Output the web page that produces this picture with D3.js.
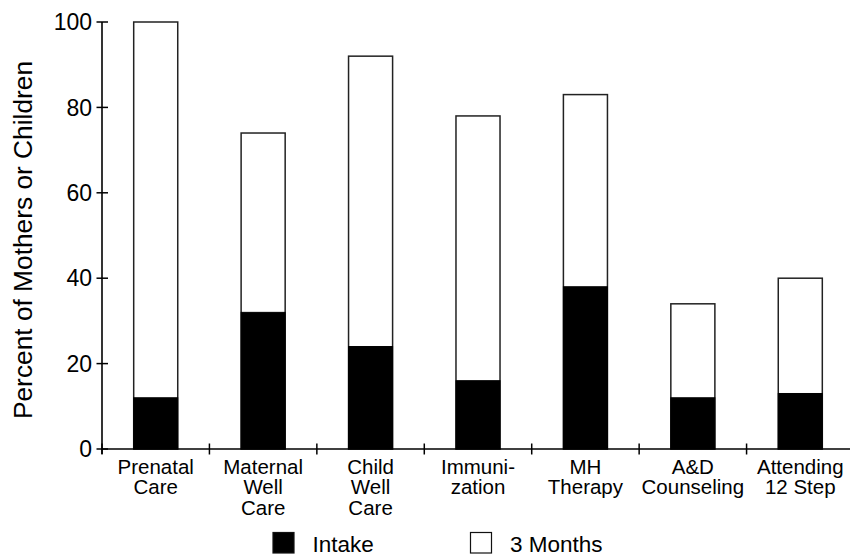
<!DOCTYPE html>
<html>
<head>
<meta charset="utf-8">
<script src="https://cdn.jsdelivr.net/npm/d3@7"></script>
<style>
  html, body { margin: 0; padding: 0; background: #fff; }
  text { font-family: "Liberation Sans", Arial, Helvetica, sans-serif; fill: #000; }
</style>
</head>
<body>
<svg id="chart" width="850" height="557"></svg>
<script>
const categories = [
  ["Prenatal", "Care"],
  ["Maternal", "Well", "Care"],
  ["Child", "Well", "Care"],
  ["Immuni-", "zation"],
  ["MH", "Therapy"],
  ["A&D", "Counseling"],
  ["Attending", "12 Step"]
];
const intake = [12, 32, 24, 16, 38, 12, 13];
const threeMonths = [100, 74, 92, 78, 83, 34, 40];
const yTicks = [0, 20, 40, 60, 80, 100];
const legendLabels = ["Intake", "3 Months"];
const yTitle = "Percent of Mothers or Children";

const svg = d3.select("#chart");
const keys = categories.map((c, i) => i);

const x = d3.scaleBand().domain(keys).range([102, 854]).padding(0);
const y = d3.scaleLinear().domain([0, 100]).range([449, 22]);
const barW = x.bandwidth() * 0.41;

// bars
const g = svg.append("g");
g.selectAll("rect.total").data(keys).join("rect")
  .attr("class", "total")
  .attr("x", i => x(i) + (x.bandwidth() - barW) / 2)
  .attr("width", barW)
  .attr("y", i => y(threeMonths[i]))
  .attr("height", i => y(0) - y(threeMonths[i]))
  .attr("fill", "#fff")
  .attr("stroke", "#222")
  .attr("stroke-width", 1.5);
g.selectAll("rect.intake").data(keys).join("rect")
  .attr("class", "intake")
  .attr("x", i => x(i) + (x.bandwidth() - barW) / 2)
  .attr("width", barW)
  .attr("y", i => y(intake[i]))
  .attr("height", i => y(0) - y(intake[i]))
  .attr("fill", "#000")
  .attr("stroke", "#000")
  .attr("stroke-width", 1);

// y axis
const yAxis = svg.append("g");
yAxis.append("line")
  .attr("x1", 102).attr("x2", 102)
  .attr("y1", y(100)).attr("y2", y(0) + 5)
  .attr("stroke", "#000").attr("stroke-width", 1.6);
yAxis.selectAll("line.tk").data(yTicks).join("line")
  .attr("class", "tk")
  .attr("x1", 96.5).attr("x2", 108)
  .attr("y1", d => y(d)).attr("y2", d => y(d))
  .attr("stroke", "#000").attr("stroke-width", 1.5);
yAxis.selectAll("text").data(yTicks).join("text")
  .attr("x", 92)
  .attr("y", d => y(d))
  .attr("dy", "0.36em")
  .attr("text-anchor", "end")
  .style("font-size", "23px")
  .text(d => d);

// x axis
const xAxis = svg.append("g");
xAxis.append("line")
  .attr("x1", 102).attr("x2", 854)
  .attr("y1", y(0)).attr("y2", y(0))
  .attr("stroke", "#000").attr("stroke-width", 1.6);
xAxis.selectAll("line.tk").data(keys).join("line")
  .attr("class", "tk")
  .attr("x1", i => x(i)).attr("x2", i => x(i))
  .attr("y1", y(0) - 5.5).attr("y2", y(0) + 5.5)
  .attr("stroke", "#000").attr("stroke-width", 1.5);
const lab = xAxis.selectAll("text").data(keys).join("text")
  .attr("text-anchor", "middle")
  .style("font-size", "20.5px");
lab.each(function(i) {
  const t = d3.select(this);
  categories[i].forEach((line, k) => {
    t.append("tspan")
      .attr("x", x(i) + x.bandwidth() / 2)
      .attr("y", 473.5 + k * 20.5)
      .text(line);
  });
});

// y title
svg.append("text")
  .attr("transform", "translate(32,240) rotate(-90)")
  .attr("text-anchor", "middle")
  .style("font-size", "26.3px")
  .text(yTitle);

// legend
const legend = [
  { label: legendLabels[0], fill: "#000", x: 273 },
  { label: legendLabels[1], fill: "#fff", x: 470.5 }
];
const lg = svg.append("g").selectAll("g").data(legend).join("g");
lg.append("rect")
  .attr("x", d => d.x).attr("y", 532.5)
  .attr("width", 21).attr("height", 20.5)
  .attr("fill", d => d.fill)
  .attr("stroke", "#111").attr("stroke-width", 1.2);
lg.append("text")
  .attr("x", d => d.x + 39.5)
  .attr("y", 552)
  .style("font-size", "22.5px")
  .text(d => d.label);
</script>
</body>
</html>
